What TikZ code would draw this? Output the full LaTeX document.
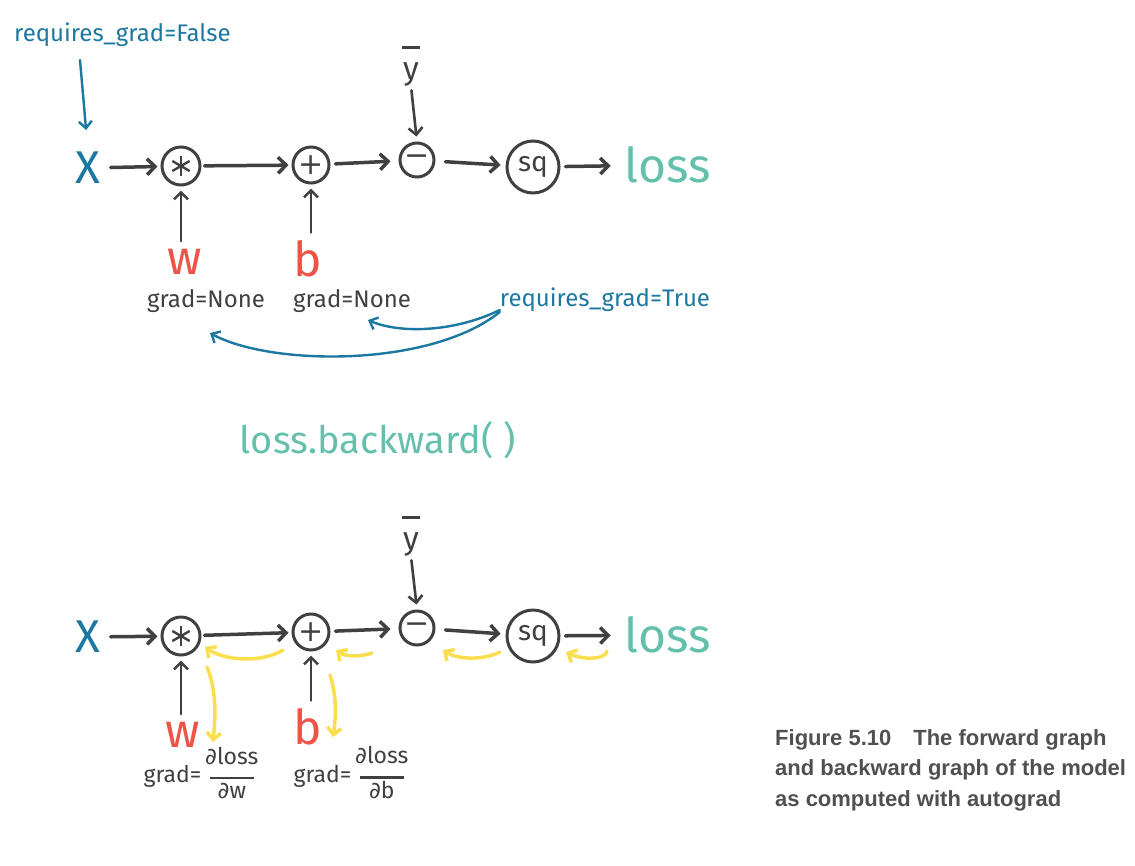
\documentclass[tikz,border=0pt]{standalone}
\usepackage{fontspec}
\setmainfont{Fira Sans}
\newfontfamily\capfont{Liberation Sans}
\newfontfamily\sym{DejaVu Sans}
\usetikzlibrary{arrows.meta}
\definecolor{ink}{RGB}{64,64,64}
\definecolor{pblue}{RGB}{28,120,160}
\definecolor{pteal}{RGB}{100,192,172}
\definecolor{pred}{RGB}{236,84,72}
\definecolor{pyel}{RGB}{250,222,80}
\definecolor{capgray}{RGB}{80,80,80}
\newcommand\dfr[1]{\begin{tabular}{@{}c@{}}{\sym ∂}loss\\[-8pt]\rule{44pt}{2.5pt}\\[-4pt]{\sym ∂}#1\end{tabular}}
\begin{document}
\begin{tikzpicture}[x=1pt,y=-1pt,
  hand/.style={font=\fontsize{#1}{#1}\selectfont, inner sep=0pt},
  fwd/.style={draw=ink, line width=3.5pt, line cap=round, -{Straight Barb[length=8pt,width=16pt]}},
  uparr/.style={draw=ink, line width=2.6pt, line cap=round, -{Straight Barb[length=7pt,width=14pt]}},
  bluearr/.style={draw=pblue, line width=2.4pt, line cap=round, -{Straight Barb[length=7pt,width=13pt]}},
  yel/.style={draw=pyel, line width=3.5pt, line cap=round, -{Straight Barb[length=7pt,width=14pt]}},
  op/.style={circle, draw=ink, line width=3pt, inner sep=0pt, minimum size=#1, text=ink, font=\sym\fontsize{30}{30}\selectfont},
  star/.style={path picture={\foreach \a in {90,30,-30}{\draw[ink,line width=2.4pt] ([shift={(\a:10pt)}]path picture bounding box.center) -- ([shift={(\a+180:10pt)}]path picture bounding box.center);}}},
  ybar/.style={text=ink, align=center, font=\fontsize{32}{32}\selectfont, inner sep=0pt},
  gradtxt/.style={text=ink, font=\fontsize{24}{24}\selectfont, inner sep=0pt}
]
\useasboundingbox (0,0) rectangle (1135,865);

% ---------- forward graph ----------
\node[text=pblue,hand=24,anchor=west] (rgF) at (14,35) {requires\_grad=False};
\coordinate (rgFa) at (80,60);
\node[text=pblue,hand=46] (X1) at (88,168) {X};
\node[op=38pt,star] (m1) at (181,166) {};
\node[op=36pt] (p1) at (311,165) {+};
\node[op=34pt] (s1) at (417,160) {−};
\node[op=52pt,font=\fontsize{28}{28}\selectfont] (q1) at (533,167) {sq};
\node[text=pteal,hand=48] (L1) at (668,165) {loss};
\node[ybar] (yb1) at (411,66) {\rule{18pt}{3.5pt}\\[-2pt]y};

\draw[bluearr, shorten >=22pt] (rgFa) -- (X1.north);
\draw[fwd, shorten <=10pt, shorten >=3pt] (X1) -- (m1);
\draw[fwd, shorten <=3pt, shorten >=3pt] (m1) -- (p1);
\draw[fwd, shorten <=5pt, shorten >=8pt] (p1) -- (s1);
\draw[fwd, shorten <=10pt, shorten >=5pt] (s1) -- (q1);
\draw[fwd, shorten <=5pt, shorten >=14pt] (q1) -- (L1);
\draw[uparr, shorten <=4pt, shorten >=5pt] (yb1.south) -- (s1.north);

\node[text=pred,hand=48] (W1) at (185,262) {w};
\node[text=pred,hand=48] (b1) at (308,259) {b};
\draw[uparr, shorten <=8pt, shorten >=4pt] (m1.south |- W1.north) -- (m1.south);
\draw[uparr, shorten <=8pt, shorten >=4pt] (p1.south |- b1.north) -- (p1.south);

\node[gradtxt] (g1) at (206,301) {grad=None};
\node[gradtxt] (g2) at (352,301) {grad=None};
\node[text=pblue,hand=24] (rgT) at (605,300) {requires\_grad=True};
\coordinate (t2) at (368,320);
\coordinate (t1) at (210,333);
\draw[bluearr] ([yshift=-10pt]rgT.west) .. controls (455,332) and (400,334) .. (t2);
\draw[bluearr] ([yshift=-12pt]rgT.west) .. controls (430,368) and (270,366) .. (t1);

\node[text=pteal,hand=38] (lb) at (378,440) {loss.backward( )};

% ---------- backward graph ----------
\node[text=pblue,hand=46] (X2) at (88,637) {X};
\node[op=38pt,star] (m2) at (181,636) {};
\node[op=36pt] (p2) at (311,632) {+};
\node[op=34pt] (s2) at (417,628) {−};
\node[op=52pt,font=\fontsize{28}{28}\selectfont] (q2) at (533,636) {sq};
\node[text=pteal,hand=48] (L2) at (668,635) {loss};
\node[ybar] (yb2) at (411,536) {\rule{18pt}{3.5pt}\\[-2pt]y};

\draw[fwd, shorten <=10pt, shorten >=3pt] (X2) -- (m2);
\draw[fwd, shorten <=3pt, shorten >=3pt] (m2) -- (p2);
\draw[fwd, shorten <=5pt, shorten >=8pt] (p2) -- (s2);
\draw[fwd, shorten <=10pt, shorten >=5pt] (s2) -- (q2);
\draw[fwd, shorten <=5pt, shorten >=14pt] (q2) -- (L2);
\draw[uparr, shorten <=4pt, shorten >=5pt] (yb2.south) -- (s2.north);

\node[text=pred,hand=48] (W2) at (183,735) {w};
\node[text=pred,hand=48] (b2) at (308,727) {b};
\draw[uparr, shorten <=8pt, shorten >=4pt] (m2.south |- W2.north) -- (m2.south);
\draw[uparr, shorten <=8pt, shorten >=4pt] (p2.south |- b2.north) -- (p2.south);

\node[gradtxt,font=\fontsize{23}{23}\selectfont] (g3) at (201,776) {grad=\,\dfr{w}};
\node[gradtxt,font=\fontsize{23}{23}\selectfont] (g4) at (351,776) {grad=\,\dfr{b}};

% yellow backward arrows
\coordinate (y1s) at (283,650); \coordinate (y1e) at (205,647);
\coordinate (y2s) at (372,653); \coordinate (y2e) at (336,650);
\coordinate (y3s) at (500,652); \coordinate (y3e) at (443,650);
\coordinate (y4s) at (607,651); \coordinate (y4e) at (566,652);
\coordinate (y5s) at (207,667); \coordinate (y5e) at (213,742);
\coordinate (y6s) at (330,675); \coordinate (y6e) at (333,737);
\draw[yel] (y1s) .. controls (262,663) and (225,661) .. (y1e);
\draw[yel] (y2s) .. controls (360,657) and (346,657) .. (y2e);
\draw[yel] (y3s) .. controls (482,661) and (456,659) .. (y3e);
\draw[yel] (y4s) .. controls (606,660) and (582,660) .. (y4e);
\draw[yel] (y5s) .. controls (216,690) and (216,712) .. (y5e);
\draw[yel] (y6s) .. controls (337,697) and (336,716) .. (y6e);

% caption
\node[anchor=north west, align=left, inner sep=0pt, text=capgray,
      font=\capfont\bfseries\fontsize{22}{30.5}\selectfont] (cap) at (775,729)
  {Figure 5.10\quad The forward graph\\and backward graph of the model\\as computed with autograd};
\end{tikzpicture}
\end{document}
